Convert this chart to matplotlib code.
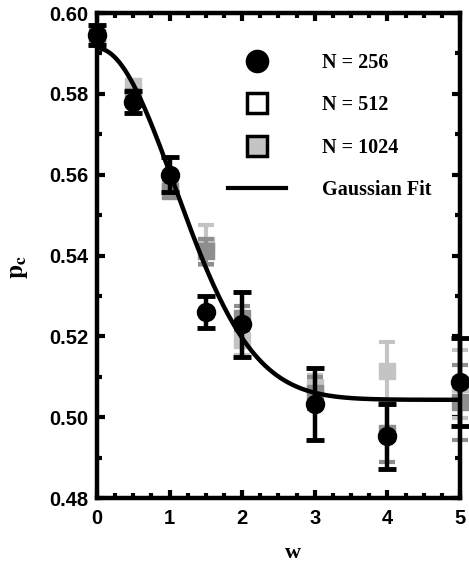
import numpy as np
import matplotlib
matplotlib.use('Agg')
from matplotlib import pyplot as plt
from matplotlib.lines import Line2D
from matplotlib.ticker import MultipleLocator

plt.rcParams['mathtext.fontset'] = 'stix'

# widths of the disorder
w = [0, 0.5, 1, 1.5, 2, 3, 4, 5]

# N = 256
p256 = [0.5945, 0.5780, 0.5600, 0.5260, 0.5230, 0.5033, 0.4953, 0.5087]
e256 = [0.0025, 0.0028, 0.0044, 0.0040, 0.0080, 0.0089, 0.0080, 0.0110]

# N = 512
p512 = [0.5940, 0.5790, 0.5560, 0.5410, 0.5245, 0.5060, 0.4962, 0.5037]
e512 = [0.0020, 0.0020, 0.0015, 0.0030, 0.0030, 0.0040, 0.0072, 0.0093]

# N = 1024
p1024 = [0.5940, 0.5820, 0.5570, 0.5426, 0.5190, 0.5075, 0.5115, 0.5082]
e1024 = [0.0020, 0.0015, 0.0020, 0.0050, 0.0035, 0.0030, 0.0072, 0.0084]

# gaussian fit parameters  p = a + b*exp(-w^2/c)
fit_a = 0.5043
fit_b = 0.0870
fit_c = 2.3

fig = plt.figure(figsize=(4.69, 5.76), dpi=100)
ax = fig.add_axes([0.2068, 0.1354, 0.7740, 0.8420])

lightg = '#c4c4c4'
darkg = '#8e8e8e'

ax.errorbar(w, p1024, yerr=e1024, fmt='s', ms=11, color=lightg, mec=lightg,
            elinewidth=3, capsize=6, capthick=3, clip_on=False, zorder=2)
ax.errorbar(w, p512, yerr=e512, fmt='s', ms=11, color=darkg, mec=darkg,
            elinewidth=3, capsize=6, capthick=3, clip_on=False, zorder=2.5)

wf = np.linspace(0, 5, 300)
ax.plot(wf, fit_a + fit_b*np.exp(-wf**2/fit_c), color='black', lw=3.2, zorder=3)

ax.errorbar(w, p256, yerr=e256, fmt='o', ms=13, color='black',
            elinewidth=3.2, capsize=6.5, capthick=3.5, clip_on=False, zorder=4)

ax.set_xlim(0, 5)
ax.set_ylim(0.48, 0.60)
ax.xaxis.set_major_locator(MultipleLocator(1))
ax.xaxis.set_minor_locator(MultipleLocator(0.25))
ax.yaxis.set_major_locator(MultipleLocator(0.02))
ax.yaxis.set_minor_locator(MultipleLocator(0.01))
ax.yaxis.set_major_formatter(matplotlib.ticker.FormatStrFormatter('%.2f'))
ax.tick_params(which='both', direction='in', top=True, right=True, width=3)
ax.tick_params(which='major', length=5.5)
ax.tick_params(which='minor', length=3.5)
ax.tick_params(axis='x', which='major', pad=8)
ax.tick_params(axis='y', which='major', pad=6)
for s in ax.spines.values():
    s.set_linewidth(3.2)
for lab in ax.get_xticklabels() + ax.get_yticklabels():
    lab.set_fontfamily('Liberation Sans')
    lab.set_fontweight('bold')
    lab.set_fontsize(14.5)

fig.text(0.625, 0.022, 'w', fontfamily='Liberation Serif', fontweight='bold',
         fontsize=16, ha='center', va='bottom')
fig.text(0.038, 0.537, r'$\mathbf{p}_\mathbf{c}$', fontsize=18, rotation=90,
         ha='center', va='center')

handles = [
    Line2D([], [], ls='none', marker='o', ms=16, color='black'),
    Line2D([], [], ls='none', marker='s', ms=14, mfc='white', mec='black', mew=2.5),
    Line2D([], [], ls='none', marker='s', ms=14, mfc=lightg, mec='black', mew=2.5),
    Line2D([], [], color='black', lw=3),
]
labels = ['N = 256', 'N = 512', 'N = 1024', 'Gaussian Fit']
leg = ax.legend(handles, labels, loc='upper left', bbox_to_anchor=(0.36, 0.918),
                frameon=False, handlelength=2.9, handletextpad=1.8,
                labelspacing=1.12, borderpad=0, borderaxespad=0,
                prop={'family': 'Liberation Serif', 'weight': 'bold', 'size': 14.5})

plt.savefig('out.png', dpi=100)
